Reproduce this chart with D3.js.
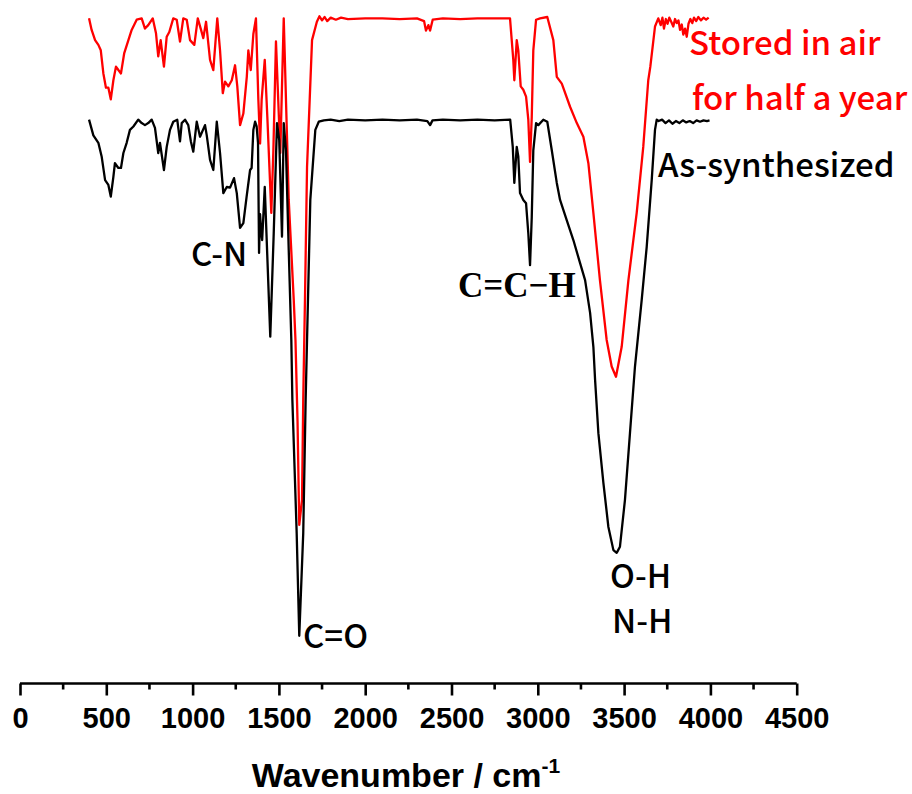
<!DOCTYPE html>
<html>
<head>
<meta charset="utf-8">
<script src="https://cdn.jsdelivr.net/npm/d3@7"></script>
<style>
  html, body { margin: 0; padding: 0; background: #fff; }
  svg { display: block; }
</style>
</head>
<body>
<svg id="chart" width="912" height="794"></svg>
<script>
// FTIR spectra: as-synthesized sample vs. sample stored in air for half a year
// (transmittance in arbitrary units, curves stacked with an offset)

const asSynthWavenumber = [400,425,454,473,493,512,526,541,550,570,585,599,618,637,657,685,705,724,743,763,782,801,811,834,850,869,888,911,927,937,956,975,990,1004,1024,1043,1072,1082,1101,1120,1140,1159,1178,1198,1217,1240,1256,1275,1294,1313,1333,1342,1352,1362,1371,1379,1385,1391,1397,1403,1418,1450,1470,1489,1502,1518,1528,1541,1557,1572,1578,1603,1618,1641,1655,1663,1682,1711,1731,1760,1800,1850,1900,2000,2100,2200,2300,2360,2376,2390,2450,2550,2650,2750,2840,2855,2864,2878,2887,2897,2916,2932,2945,2955,2965,2974,2990,3003,3032,3055,3081,3110,3129,3168,3206,3245,3274,3303,3322,3332,3351,3380,3409,3438,3457,3476,3505,3534,3563,3602,3631,3660,3679,3689,3700,3720,3740,3760,3780,3800,3820,3840,3860,3880,3900,3920,3940,3960,3980,3995];
const asSynthSignal = [82.4,80.1,79.0,77.0,73.5,72.8,71.1,74.0,76.0,75.3,75.3,77.5,79.0,80.9,81.4,82.4,81.9,81.6,81.9,82.4,81.2,77.5,79.0,75.0,78.4,80.9,82.1,82.4,79.2,81.9,82.4,81.6,79.2,77.7,82.1,79.9,81.6,80.1,76.5,75.0,82.1,77.5,71.6,72.5,72.4,73.8,71.6,66.5,67.2,71.1,75.0,75.3,80.9,82.1,81.4,79.0,62.8,68.5,66.0,64.7,72.5,50.5,65.7,81.9,79.4,65.2,81.9,77.9,63.2,50.0,41.2,21.6,6.5,21.6,41.2,50.0,70.6,80.9,82.1,82.3,82.4,82.2,82.4,82.3,82.4,82.3,82.4,82.2,81.6,82.3,82.4,82.3,82.4,82.3,82.4,78.4,73.1,78.4,77.0,71.6,70.6,70.1,65.7,61.0,68.1,77.9,81.9,81.6,82.4,82.1,77.9,73.1,70.6,67.6,64.7,61.3,58.8,54.0,49.0,44.1,36.3,29.0,22.5,19.1,18.7,19.6,26.5,36.3,46.1,55.9,63.7,73.5,80.9,82.4,82.2,82.4,81.9,82.3,81.8,82.2,81.9,82.3,82.0,82.2,81.9,82.3,82.1,82.3,82.2,82.3];

const agedWavenumber = [400,415,435,454,468,483,498,512,526,541,556,570,585,604,628,647,676,705,724,743,769,788,801,815,834,850,865,888,908,927,946,966,985,1010,1030,1049,1062,1078,1101,1120,1143,1159,1175,1188,1207,1227,1246,1259,1275,1294,1314,1323,1337,1352,1367,1381,1391,1400,1418,1433,1456,1468,1483,1508,1528,1557,1586,1596,1608,1618,1634,1641,1651,1663,1692,1720,1735,1750,1765,1780,1800,1830,1860,1900,2000,2100,2200,2300,2341,2352,2366,2376,2391,2450,2550,2650,2750,2839,2858,2864,2878,2887,2901,2916,2932,2945,2955,2965,2974,2990,3013,3055,3090,3110,3139,3187,3226,3264,3293,3322,3360,3399,3428,3453,3486,3525,3573,3611,3640,3652,3679,3698,3712,3722,3731,3742,3752,3762,3773,3785,3795,3805,3815,3824,3834,3843,3853,3863,3873,3884,3895,3905,3918,3930,3945,3960,3975,3990];
const agedSignal = [97.3,95.6,94.1,93.4,92.6,89.2,87.1,87.1,85.4,88.2,90.2,89.7,89.2,92.2,94.1,95.6,97.1,97.3,95.8,96.3,97.3,95.1,91.7,94.1,90.2,94.6,95.3,97.3,97.1,93.9,97.3,97.1,94.1,93.4,97.3,95.6,94.4,96.8,91.2,89.7,97.3,92.6,86.3,88.0,87.3,88.2,90.4,87.3,81.6,83.3,88.7,92.6,89.7,95.0,97.3,85.3,78.9,85.3,91.2,82.8,68.7,77.9,93.9,77.5,97.3,70.6,55.9,50.0,38.0,22.8,26.5,41.2,55.9,75.4,94.1,96.8,97.6,97.0,97.5,96.9,97.4,97.1,97.4,97.2,97.3,97.3,97.2,97.3,96.9,95.5,96.3,95.5,97.1,97.3,97.2,97.3,97.3,97.3,91.2,88.2,94.1,92.6,87.3,86.8,85.8,82.4,76.2,82.8,92.6,97.1,97.3,97.5,94.1,88.7,87.7,84.3,81.9,79.9,76.0,68.7,58.8,50.0,46.1,44.6,49.0,58.8,68.7,78.4,88.2,90.2,96.1,97.3,96.3,97.4,95.8,97.2,96.5,97.4,96.8,96.1,97.2,96.6,97.0,95.6,96.4,94.9,95.8,94.6,96.5,97.2,96.6,97.4,96.9,97.5,97.0,97.4,97.1,97.4];

const xTickValues = [0,500,1000,1500,2000,2500,3000,3500,4000,4500];
const xMinorTicks = [250,750,1250,1750,2250,2750,3250,3750,4250];

const seriesNames = ["As-synthesized", "Stored in air", "for half a year"];
const bandLabels = ["C-N", "C=C\u2212H", "C=O", "O-H", "N-H"];

const svg = d3.select("#chart");

const x = d3.scaleLinear().domain([0, 4500]).range([20, 796.7]);
const y = d3.scaleLinear().domain([0, 100]).range([680, 0]);

const zip = (xs, ys) => xs.map((w, i) => ({ w, v: ys[i] }));
const line = d3.line().x(d => x(d.w)).y(d => y(d.v));

// spectra
svg.append("path")
  .datum(zip(agedWavenumber, agedSignal))
  .attr("d", line)
  .attr("fill", "none")
  .attr("stroke", "#ff0000")
  .attr("stroke-width", 2.3)
  .attr("stroke-linejoin", "round");

svg.append("path")
  .datum(zip(asSynthWavenumber, asSynthSignal))
  .attr("d", line)
  .attr("fill", "none")
  .attr("stroke", "#000")
  .attr("stroke-width", 2.3)
  .attr("stroke-linejoin", "round");

// bottom axis
const axisY = 683.5;
const axisG = svg.append("g").attr("transform", `translate(0,${axisY})`);
axisG.call(d3.axisBottom(x).tickValues(xTickValues).tickSize(12).tickPadding(12).tickFormat(d3.format("d")));
axisG.select(".domain").attr("d", `M${x(0)},0H${x(4500)}`).attr("stroke-width", 2.6);
axisG.selectAll(".tick line").attr("stroke-width", 2.6);
axisG.selectAll(".tick text")
  .attr("font-family", "'Liberation Sans', Arial, sans-serif")
  .attr("font-weight", "bold")
  .attr("font-size", 29)
  .attr("fill", "#000");
axisG.selectAll(".minor")
  .data(xMinorTicks)
  .enter().append("line")
  .attr("x1", d => x(d)).attr("x2", d => x(d))
  .attr("y1", 0).attr("y2", 6)
  .attr("stroke", "#000").attr("stroke-width", 2.6);

// axis title
const title = svg.append("text")
  .attr("x", 406).attr("y", 787)
  .attr("text-anchor", "middle")
  .attr("font-family", "'Liberation Sans', Arial, sans-serif")
  .attr("font-weight", "bold")
  .attr("font-size", 34)
  .attr("fill", "#000");
title.append("tspan").text("Wavenumber / cm");
title.append("tspan").attr("dy", -14).attr("font-size", 21).text("-1");

// series labels
const sansFont = "'Noto Sans CJK SC', 'Noto Sans', sans-serif";
const labelSize = 33;
const labelWeight = 500;
function label(txt, px, py, color) {
  return svg.append("text").attr("x", px).attr("y", py).attr("fill", color)
    .attr("font-family", sansFont).attr("font-size", labelSize)
    .attr("font-weight", labelWeight).text(txt);
}
label(seriesNames[1], 689, 55, "#ff0000");
label(seriesNames[2], 692, 110, "#ff0000");
label(seriesNames[0], 658, 177, "#000");

// band assignments
label(bandLabels[0], 191, 266, "#000");
svg.append("text").attr("x", 458).attr("y", 297).attr("fill", "#000")
  .attr("font-family", "'Liberation Serif', 'Times New Roman', serif")
  .attr("font-weight", "bold").attr("font-size", 35).text(bandLabels[1]);
label(bandLabels[2], 303, 648, "#000");
label(bandLabels[3], 610, 588, "#000");
label(bandLabels[4], 612, 633, "#000");
</script>
</body>
</html>
